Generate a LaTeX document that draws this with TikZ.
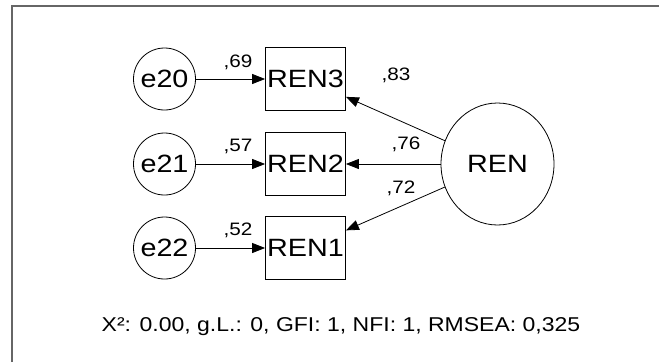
\documentclass[tikz,border=0pt]{standalone}
\usepackage{fontspec}
\setmainfont{Liberation Sans}[FakeStretch=1.15]
\usetikzlibrary{arrows.meta, shapes.geometric}
\definecolor{frgray}{HTML}{666666}

\begin{document}
\begin{tikzpicture}[x=1pt, y=-1pt, >={Triangle[length=13pt, width=10pt]}, line width=0.8pt,
  err/.style={draw, circle, minimum size=62pt, inner sep=0pt, font=\fontsize{25}{25}\selectfont},
  obs/.style={draw, rectangle, minimum width=80pt, minimum height=63pt, inner sep=0pt,
    font=\fontsize{25}{25}\selectfont},
  lat/.style={draw, ellipse, minimum width=113pt, minimum height=122pt, inner sep=0pt,
    font=\fontsize{25}{25}\selectfont},
  coef/.style={font=\fontsize{18}{18}\selectfont, inner sep=0pt}]

\useasboundingbox (0,0) rectangle (659,362);

% Frame
\draw[frgray, line width=2pt] (12,362) |- (659,6);

% Error terms
\node[err] (e20) at (164.5,79) {e20};
\node[err] (e21) at (164.5,164) {e21};
\node[err] (e22) at (164.5,248) {e22};

% Indicators
\node[obs] (ren3) at (305.5,79) {REN3};
\node[obs] (ren2) at (305.5,164) {REN2};
\node[obs] (ren1) at (305.5,248) {REN1};

% Latent factor
\node[lat] (ren) at (497.5,164) {REN};

% Error paths
\draw[->] (e20) -- (ren3);
\draw[->] (e21) -- (ren2);
\draw[->] (e22) -- (ren1);
\node[coef] (c69) at (238,62) {,69};
\node[coef] (c57) at (238,146) {,57};
\node[coef] (c52) at (238,230) {,52};

% Loadings
\draw[->] (ren) -- (ren3);
\draw[->] (ren) -- (ren2);
\draw[->] (ren) -- (ren1);
\node[coef] (c83) at (396,75) {,83};
\node[coef] (c76) at (406,144) {,76};
\node[coef] (c72) at (401,188) {,72};

% Fit indices
\node[font=\fontsize{20}{20}\selectfont] (fit) at (341,327)
  {X²: 0.00, g.L.: 0, GFI: 1, NFI: 1, RMSEA: 0,325};

\end{tikzpicture}
\end{document}
